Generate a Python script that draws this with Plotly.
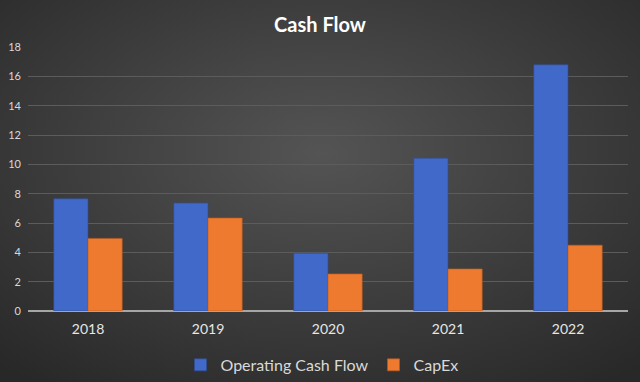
import plotly.graph_objects as go

years = ["2018", "2019", "2020", "2021", "2022"]
operating_cash_flow = [7.65, 7.36, 3.94, 10.42, 16.79]
capex = [4.95, 6.34, 2.53, 2.87, 4.49]
y_ticks = [0, 2, 4, 6, 8, 10, 12, 14, 16, 18]

FONT = "Lato, 'Open Sans', sans-serif"

W, H = 640, 382
ML, MR, MT, MB = 28, 12, 47, 71
PW, PH = W - ML - MR, H - MT - MB

bg_svg = (
    "data:image/svg+xml;utf8,"
    "<svg xmlns='http://www.w3.org/2000/svg' width='640' height='382' "
    "viewBox='0 0 640 382' preserveAspectRatio='none'>"
    "<defs><radialGradient id='g' cx='50%' cy='40%' r='75%'>"
    "<stop offset='0%' stop-color='%23545454'/>"
    "<stop offset='100%' stop-color='%23282828'/>"
    "</radialGradient></defs>"
    "<rect width='640' height='382' fill='url(%23g)'/></svg>"
)

fig = go.Figure()
fig.add_trace(go.Bar(
    x=years, y=operating_cash_flow, name="Operating Cash Flow",
    marker=dict(color="#4169c9", line=dict(color="#2f4f9a", width=0.6)),
))
fig.add_trace(go.Bar(
    x=years, y=capex, name="CapEx",
    marker=dict(color="#ee7a30", line=dict(color="#b85a1e", width=0.6)),
))

fig.update_layout(
    width=W, height=H,
    margin=dict(l=ML, r=MR, t=MT, b=MB, autoexpand=False),
    paper_bgcolor="#333333",
    plot_bgcolor="rgba(0,0,0,0)",
    images=[dict(source=bg_svg, xref="paper", yref="paper",
                 x=-ML / PW, y=1 + MT / PH,
                 sizex=W / PW, sizey=H / PH, xanchor="left", yanchor="top",
                 sizing="stretch", layer="below")],
    title=dict(text="<b>Cash Flow</b>", x=0.5, xanchor="center",
               y=1 - 25 / H, yanchor="middle",
               font=dict(family=FONT, size=20, color="#ffffff")),
    barmode="group", bargap=0.43, bargroupgap=0,
    showlegend=True,
    legend=dict(orientation="h", x=0.49, xanchor="center", y=-0.14,
                yanchor="top", font=dict(family=FONT, size=16, color="#d9d9d9"),
                bgcolor="rgba(0,0,0,0)", itemwidth=30, tracegroupgap=0),
    font=dict(family=FONT, color="#d9d9d9"),
)
fig.update_xaxes(
    showgrid=False, showline=False, ticks="",
    tickfont=dict(family=FONT, size=14, color="#e6e6e6"),
    ticklabelstandoff=8,
)
fig.update_yaxes(
    range=[0, 18], tickvals=y_ticks, ticks="",
    showgrid=True, gridcolor="#5c5c5c", gridwidth=1,
    zeroline=True, zerolinecolor="#a6a6a6", zerolinewidth=2,
    tickfont=dict(family=FONT, size=11, color="#d9d9d9"),
    ticklabelstandoff=6,
)

fig.write_html(
    "out.html",
    config={"displayModeBar": False},
    post_script="document.body.style.margin='0';document.body.style.background='#2a2a2a';",
)
